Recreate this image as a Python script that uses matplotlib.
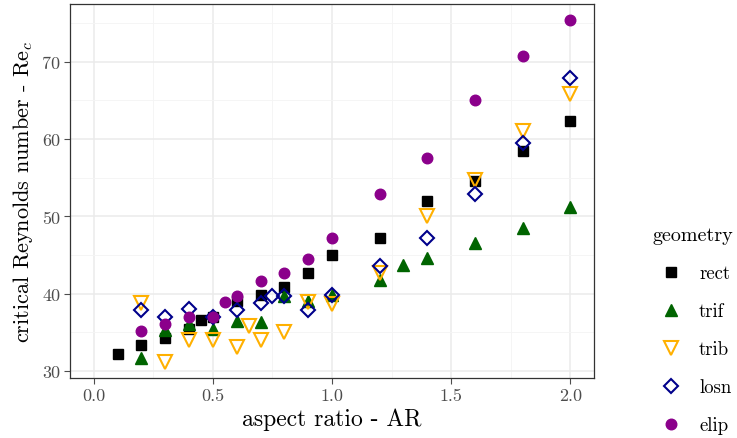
import matplotlib
matplotlib.use("Agg")
import matplotlib.pyplot as plt
from matplotlib.ticker import MultipleLocator, FuncFormatter

plt.rcParams['font.family'] = 'serif'
plt.rcParams['font.serif'] = ['cmr10', 'DejaVu Serif']
plt.rcParams['mathtext.fontset'] = 'cm'
plt.rcParams['axes.formatter.use_mathtext'] = True

rect_x = [0.1, 0.2, 0.3, 0.4, 0.45, 0.5, 0.6, 0.7, 0.8, 0.9, 1.0, 1.2, 1.4, 1.6, 1.8, 2.0]
rect_y = [32.2, 33.4, 34.3, 35.4, 36.6, 37.0, 39.0, 39.8, 40.8, 42.7, 45.0, 47.2, 52.0, 54.6, 58.5, 62.3]

trif_x = [0.2, 0.3, 0.4, 0.5, 0.6, 0.7, 0.8, 0.9, 1.0, 1.2, 1.3, 1.4, 1.6, 1.8, 2.0]
trif_y = [31.7, 35.3, 36.1, 35.4, 36.4, 36.3, 39.7, 39.1, 39.8, 41.8, 43.7, 44.6, 46.5, 48.5, 51.2]

trib_x = [0.2, 0.3, 0.4, 0.5, 0.6, 0.65, 0.7, 0.8, 0.9, 1.0, 1.2, 1.4, 1.6, 1.8, 2.0]
trib_y = [38.8, 31.2, 34.0, 34.0, 33.1, 35.8, 34.0, 35.0, 38.9, 38.7, 42.7, 50.1, 54.7, 61.1, 65.8]

losn_x = [0.2, 0.3, 0.4, 0.5, 0.6, 0.7, 0.75, 0.8, 0.9, 1.0, 1.2, 1.4, 1.6, 1.8, 2.0]
losn_y = [37.9, 37.0, 38.0, 37.0, 37.9, 38.8, 39.7, 39.7, 37.9, 39.8, 43.6, 47.2, 52.9, 59.5, 67.9]

elip_x = [0.2, 0.3, 0.4, 0.5, 0.55, 0.6, 0.7, 0.8, 0.9, 1.0, 1.2, 1.4, 1.6, 1.8, 2.0]
elip_y = [35.2, 36.1, 37.0, 37.0, 38.9, 39.7, 41.6, 42.7, 44.5, 47.2, 52.9, 57.6, 65.1, 70.7, 75.4]

fig = plt.figure(figsize=(7.37, 4.39), dpi=100)
ax = fig.add_axes([0.095, 0.137, 0.711, 0.852])

ax.plot(rect_x, rect_y, ls='none', marker='s', ms=7.6, color='black', label='rect', zorder=3)
ax.plot(trif_x, trif_y, ls='none', marker='^', ms=8.5, color='#006400', label='trif', zorder=3)
ax.plot(trib_x, trib_y, ls='none', marker='v', ms=9.5, mfc='none', mec='#FFB000', mew=1.5, label='trib', zorder=3)
ax.plot(losn_x, losn_y, ls='none', marker='D', ms=7.0, mfc='none', mec='#00008B', mew=1.5, label='losn', zorder=3)
ax.plot(elip_x, elip_y, ls='none', marker='o', ms=7.6, color='#8B008B', label='elip', zorder=3)

ax.set_xlim(-0.1, 2.1)
ax.set_ylim(29.1, 77.5)
ax.xaxis.set_major_locator(MultipleLocator(0.5))
ax.xaxis.set_minor_locator(MultipleLocator(0.25))
ax.yaxis.set_major_locator(MultipleLocator(10))
ax.yaxis.set_minor_locator(MultipleLocator(5))
ax.xaxis.set_major_formatter(FuncFormatter(lambda v, p: f"{v:.1f}"))
ax.yaxis.set_major_formatter(FuncFormatter(lambda v, p: f"{v:.0f}"))
ax.grid(which='major', color='#EBEBEB', lw=1.1)
ax.grid(which='minor', color='#F4F4F4', lw=0.6)
ax.set_axisbelow(True)
ax.tick_params(which='major', colors='#4D4D4D', labelsize=13, length=4, width=0.8, pad=3)
ax.tick_params(which='minor', length=0)
for s in ax.spines.values():
    s.set_color('#333333')
    s.set_linewidth(0.9)

ax.set_xlabel('aspect ratio - AR', fontsize=17, labelpad=3)
ax.set_ylabel(r'critical Reynolds number - Re$_c$', fontsize=16, labelpad=5)

leg = ax.legend(title='geometry', loc='upper left', bbox_to_anchor=(1.111, 0.405),
                frameon=False, fontsize=13.5, title_fontsize=14.5,
                labelspacing=1.07, handlelength=2.0, handletextpad=0.5,
                borderpad=0, borderaxespad=0)
leg._legend_box.align = 'left'

fig.savefig('out.png', dpi=100)
